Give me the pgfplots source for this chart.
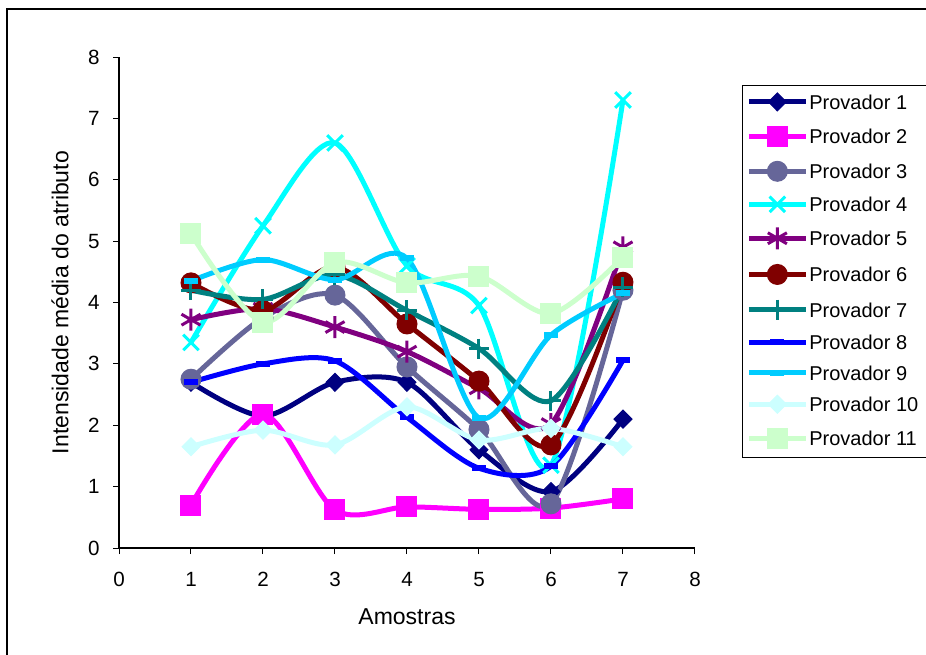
\documentclass[border=0pt]{standalone}
\usepackage{fontspec}
\setmainfont{Liberation Sans}
\usepackage{pgfplots}
\pgfplotsset{compat=1.18}
\definecolor{c1}{HTML}{000080}
\definecolor{c2}{HTML}{FF00FF}
\definecolor{c3}{HTML}{666699}
\definecolor{c4}{HTML}{00FFFF}
\definecolor{c5}{HTML}{800080}
\definecolor{c6}{HTML}{800000}
\definecolor{c7}{HTML}{008080}
\definecolor{c8}{HTML}{0000FF}
\definecolor{c9}{HTML}{00CCFF}
\definecolor{c10}{HTML}{CCFFFF}
\definecolor{c11}{HTML}{CCFFCC}
\begin{document}
\begin{tikzpicture}
\useasboundingbox (0,0) rectangle (463pt,327pt);
\draw[line width=0.8pt] (3.5pt,-5pt) -- (3.5pt,322.4pt) -- (470pt,322.4pt);
\begin{axis}[
  at={(59.5pt,53pt)}, anchor=south west,
  scale only axis, width=288pt, height=245.5pt,
  xmin=0, xmax=8, ymin=0, ymax=8,
  xtick={0,1,...,8}, ytick={0,1,...,8},
  axis x line*=bottom, axis y line*=left,
  axis line style={-, line width=0.6pt},
  tick align=outside, major tick length=3pt,
  tick style={black, line width=0.5pt},
  /pgf/number format/assume math mode=true,
  ticklabel style={font=\fontsize{10.3}{12}\selectfont},
  yticklabel style={inner sep=0pt, xshift=-6.5pt},
  xticklabel style={inner sep=0pt, yshift=-9pt},
  label style={font=\fontsize{11.5}{13}\selectfont},
  xlabel={Amostras},
  ylabel={Intensidade média do atributo},
  xlabel style={at={(axis description cs:0.5,-0.1405)}, anchor=center},
  ylabel style={at={(axis description cs:-0.1024,0.5)}, anchor=center},
  every axis plot/.append style={line width=2.5pt, smooth},
  legend image code/.code={\draw[mark repeat=2,mark phase=2,#1] plot coordinates {(0pt,0pt) (14.25pt,0pt) (28.5pt,0pt)};},
  legend style={at={(axis description cs:1.0885,0.9277)}, anchor=north west,
    draw=none, fill=none, inner sep=0pt, row sep=7.6pt, column sep=0.5pt,
    nodes={inner sep=0pt, text height=7.5pt, text depth=0pt, anchor=west, font=\fontsize{10}{12}\selectfont}},
  legend cell align=left,
]
\addplot[c1, mark=diamond*, mark size=4.5pt, mark options={solid, fill=c1, line width=0.5pt, xscale=1.33}]
  coordinates {(1,2.7)(2,2.15)(3,2.7)(4,2.7)(5,1.6)(6,0.92)(7,2.1)};
\addlegendentry{Provador 1}
\addplot[c2, mark=square*, mark size=5pt, mark options={solid, fill=c2, line width=0.5pt}]
  coordinates {(1,0.7)(2,2.18)(3,0.62)(4,0.67)(5,0.63)(6,0.65)(7,0.8)};
\addlegendentry{Provador 2}
\addplot[c3, mark=*, mark size=5pt, mark options={solid, fill=c3, line width=0.5pt}]
  coordinates {(1,2.75)(2,3.75)(3,4.12)(4,2.95)(5,1.93)(6,0.72)(7,4.2)};
\addlegendentry{Provador 3}
\addplot[c4, mark=x, mark size=5.5pt, mark options={solid, line width=1.5pt}]
  coordinates {(1,3.35)(2,5.25)(3,6.6)(4,4.6)(5,3.95)(6,1.35)(7,7.3)};
\addlegendentry{Provador 4}
\addplot[c5, mark=asterisk, mark size=5.5pt, mark options={solid, line width=1.5pt}]
  coordinates {(1,3.72)(2,3.9)(3,3.6)(4,3.2)(5,2.6)(6,2.02)(7,4.9)};
\addlegendentry{Provador 5}
\addplot[c6, mark=*, mark size=5pt, mark options={solid, fill=c6, line width=0.5pt}]
  coordinates {(1,4.32)(2,3.87)(3,4.58)(4,3.65)(5,2.72)(6,1.68)(7,4.33)};
\addlegendentry{Provador 6}
\addplot[c7, mark=+, mark size=5pt, mark options={solid, line width=1.5pt}]
  coordinates {(1,4.2)(2,4.05)(3,4.45)(4,3.87)(5,3.25)(6,2.4)(7,4.25)};
\addlegendentry{Provador 7}
\addplot[c8, mark=-, mark size=3.5pt, mark options={solid, line width=3pt}]
  coordinates {(1,2.7)(2,3.0)(3,3.05)(4,2.13)(5,1.3)(6,1.33)(7,3.06)};
\addlegendentry{Provador 8}
\addplot[c9, mark=-, mark size=3.5pt, mark options={solid, line width=3pt}]
  coordinates {(1,4.35)(2,4.7)(3,4.37)(4,4.72)(5,2.12)(6,3.47)(7,4.15)};
\addlegendentry{Provador 9}
\addplot[c10, mark=diamond*, mark size=4.5pt, mark options={solid, fill=c10, line width=0.5pt, xscale=1.33}]
  coordinates {(1,1.65)(2,1.92)(3,1.68)(4,2.3)(5,1.76)(6,1.95)(7,1.65)};
\addlegendentry{Provador 10}
\addplot[c11, mark=square*, mark size=5pt, mark options={solid, fill=c11, line width=0.5pt}]
  coordinates {(1,5.12)(2,3.68)(3,4.65)(4,4.32)(5,4.43)(6,3.82)(7,4.74)};
\addlegendentry{Provador 11}
\end{axis}
\draw[line width=0.5pt] (371pt,284pt) rectangle (475pt,98.5pt);
\end{tikzpicture}
\end{document}
